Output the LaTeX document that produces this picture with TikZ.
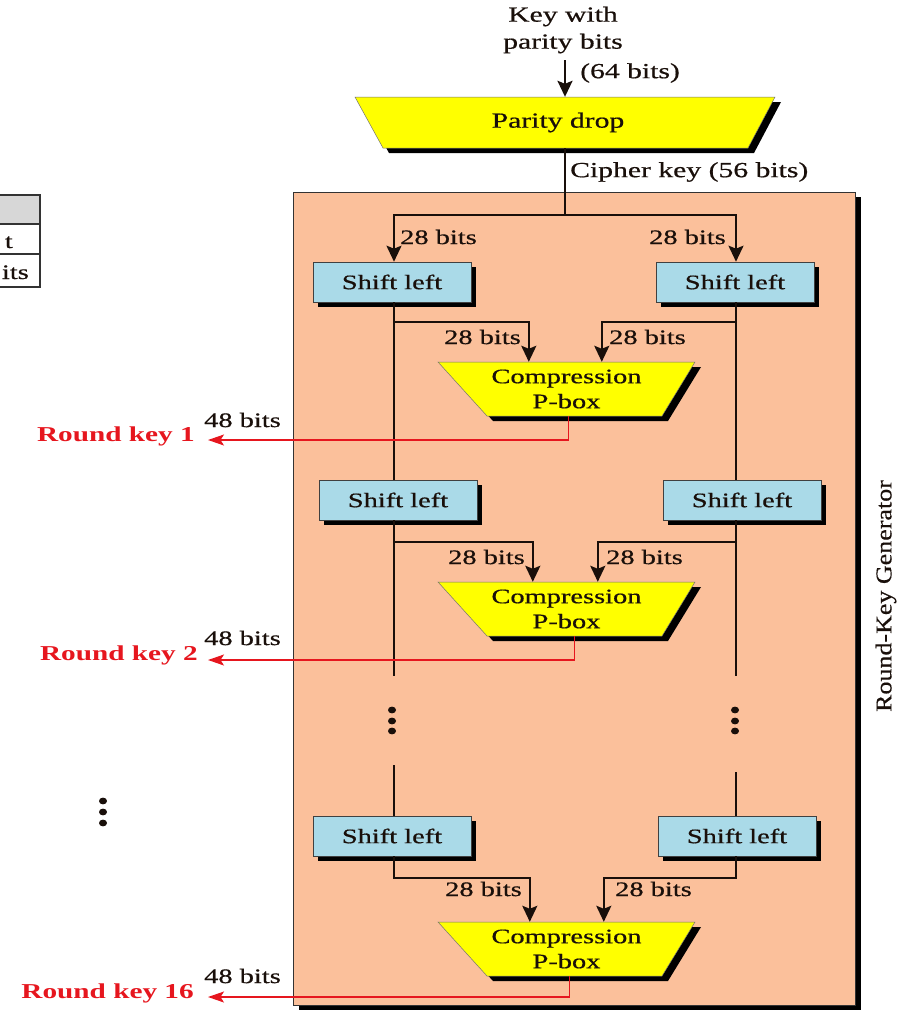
\documentclass[tikz,border=0pt]{standalone}
\usepackage{fontspec}
\setmainfont{Liberation Serif}[FakeStretch=1.38, UprightFeatures={FakeBold=0.6}]
\newfontfamily\vfont{Liberation Serif}[FakeBold=0.4]
\usetikzlibrary{arrows.meta,shadows,calc}
\definecolor{salmon}{RGB}{251,192,155}
\definecolor{lblue}{RGB}{170,218,232}
\definecolor{pyellow}{RGB}{255,255,0}
\definecolor{kred}{RGB}{230,22,30}
\definecolor{ink}{RGB}{25,15,10}
\definecolor{tgray}{RGB}{215,215,215}
\newcommand\mypbox[1]{%
  \fill[black] (444,{#1+5}) -- (701,{#1+5}) -- (668,{#1+59}) -- (493,{#1+59}) -- cycle;
  \filldraw[fill=pyellow, draw=black!55, line width=0.5pt] (438,#1) -- (695,#1) -- (662,{#1+54}) -- (487,{#1+54}) -- cycle;}
\begin{document}
\begin{tikzpicture}[x=1pt,y=-1pt,
  every node/.append style={text=ink, inner sep=0pt},
  lbl/.style={font=\fontsize{20.6}{24}\selectfont},
  big/.style={font=\fontsize{21.5}{27}\selectfont},
  shbox/.style={draw=black!75, line width=0.6pt, fill=lblue, minimum width=158pt, minimum height=40pt,
    font=\fontsize{20.6}{24}\selectfont,
    drop shadow={shadow xshift=5pt, shadow yshift=-5pt, fill=black, opacity=1}},
  pbnode/.style={minimum width=257pt, minimum height=54pt, align=center, font=\fontsize{20.6}{25}\selectfont},
  rk/.style={text=kred, font=\bfseries\fontsize{21.2}{24}\selectfont},
  conn/.style={draw=ink, line width=2.2pt},
  arr/.style={conn, -{Stealth[length=16pt,width=15pt,inset=3pt]}},
  redarr/.style={draw=kred, line width=1.3pt, -{Stealth[length=16pt,width=11pt,inset=3.5pt]}}]
\useasboundingbox (0,0) rectangle (899,1012);

% partial table at left edge
\begin{scope}
  \clip (0,185) rectangle (48,295);
  \fill[tgray] (-60,195) rectangle (40,224);
  \draw[black!80, line width=1.2pt] (-60,195) rectangle (40,287);
  \draw[black!80, line width=1.2pt] (-60,224) -- (40,224) (-60,254) -- (40,254);
  \node[lbl, anchor=base east] (tt1) at (13,248) {t};
  \node[lbl, anchor=base east] (tt2) at (29,279) {its};
\end{scope}

% round-key generator box
\node[draw=black!80, line width=0.8pt, fill=salmon, minimum width=562pt, minimum height=813pt, anchor=north west,
  drop shadow={shadow xshift=6pt, shadow yshift=-5pt, fill=black, opacity=1}] (rkg) at (293,192) {};
\node[rotate=90, font=\vfont\fontsize{26}{26}\selectfont] (rkglbl) at (886,596) {\scalebox{1}[0.87]{Round-Key Generator}};

% top
\node[big, align=center] (key) at (563,30) {Key with\\parity bits};
\coordinate (kin) at (565,60);
\fill[black] (361,102) -- (781,102) -- (754,153) -- (389,153) -- cycle;
\filldraw[fill=pyellow, draw=black!55, line width=0.5pt] (355,97) -- (775,97) -- (748,148) -- (383,148) -- cycle;
\node[big, minimum width=420pt, minimum height=51pt] (pd) at (558,122.5) {Parity drop};
\draw[arr] (kin) -- (kin |- pd.north);
\node[big, anchor=west] (b64) at (580,73) {(64 bits)};
\node[big, anchor=west] (ck) at (570,172) {Cipher key (56 bits)};
\coordinate (split) at (565,215);
\coordinate (colL) at (394,0);
\coordinate (colR) at (736,0);

% shift-left boxes
\node[shbox] (sl1a) at (392,282) {Shift left};
\node[shbox] (sl1b) at (735,282) {Shift left};
\node[shbox] (sl2a) at (398,500) {Shift left};
\node[shbox] (sl2b) at (742,500) {Shift left};
\node[shbox] (sl3a) at (392,836) {Shift left};
\node[shbox] (sl3b) at (737,836) {Shift left};

\draw[conn] (kin |- pd.south) -- (split);
\draw[arr] (split) -| (sl1a.north -| colL);
\draw[arr] (split) -| (sl1b.north -| colR);
\node[lbl, anchor=west] (t1) at (400,237) {28 bits};
\node[lbl, anchor=east] (t2) at (726,237) {28 bits};

% compression P-boxes
\mypbox{362}
\node[pbnode] (pb1) at (566.5,389) {Compression\\P-box};
\mypbox{582}
\node[pbnode] (pb2) at (566.5,609) {Compression\\P-box};
\mypbox{922}
\node[pbnode] (pb3) at (566.5,949) {Compression\\P-box};

% row 1
\draw[conn] (sl1a.south -| colL) -- (sl2a.north -| colL);
\draw[conn] (sl1b.south -| colR) -- (sl2b.north -| colR);
\draw[arr] ($(sl1a.south -| colL)+(0,20)$) -| ($(pb1.north west)+(91,0)$);
\draw[arr] ($(sl1b.south -| colR)+(0,20)$) -| ($(pb1.north west)+(164,0)$);
\node[lbl, anchor=east] (t3) at (521,337) {28 bits};
\node[lbl, anchor=west] (t4) at (609,337) {28 bits};

% row 2
\coordinate (gLt) at (394,676);
\coordinate (gLb) at (394,765);
\coordinate (gRt) at (736,676);
\coordinate (gRb) at (736,772);
\draw[conn] (sl2a.south -| colL) -- (gLt);
\draw[conn] (sl2b.south -| colR) -- (gRt);
\draw[arr] ($(sl2a.south -| colL)+(0,22)$) -| ($(pb2.north west)+(95,0)$);
\draw[arr] ($(sl2b.south -| colR)+(0,22)$) -| ($(pb2.north west)+(160,0)$);
\node[lbl, anchor=east] (t5) at (525,557) {28 bits};
\node[lbl, anchor=west] (t6) at (606,557) {28 bits};

% dots
\foreach \y in {710,721,731} {
  \fill[ink] (392,\y) ellipse (4pt and 3.4pt);
  \fill[ink] (735,\y) ellipse (4pt and 3.4pt);
}
\foreach \y in {801,812,823} {
  \fill[ink] (103,\y) ellipse (4pt and 3.4pt);
}

% row 3
\draw[conn] (gLb) -- (sl3a.north -| colL);
\draw[conn] (gRb) -- (sl3b.north -| colR);
\draw[arr] (sl3a.south -| colL) |- ++(0,22) -| ($(pb3.north west)+(92,0)$);
\draw[arr] (sl3b.south -| colR) |- ++(0,22) -| ($(pb3.north west)+(166,0)$);
\node[lbl, anchor=east] (t7) at (522,889) {28 bits};
\node[lbl, anchor=west] (t8) at (615,889) {28 bits};

% round keys
\coordinate (rk1tip) at (208,440);
\coordinate (rk2tip) at (208,660);
\coordinate (rk3tip) at (208,997);
\draw[redarr] ($(pb1.south)+(2,0)$) |- (rk1tip);
\draw[redarr] ($(pb2.south)+(8,0)$) |- (rk2tip);
\draw[redarr] ($(pb3.south)+(3,0)$) |- (rk3tip);
\node[rk, anchor=east] (rk1) at (195,436) {Round key 1};
\node[rk, anchor=east] (rk2) at (198,655) {Round key 2};
\node[rk, anchor=east] (rk3) at (194,993) {Round key 16};
\node[lbl, anchor=west] (f1) at (204,420) {48 bits};
\node[lbl, anchor=west] (f2) at (204,638) {48 bits};
\node[lbl, anchor=west] (f3) at (204,976) {48 bits};
\end{tikzpicture}
\end{document}
